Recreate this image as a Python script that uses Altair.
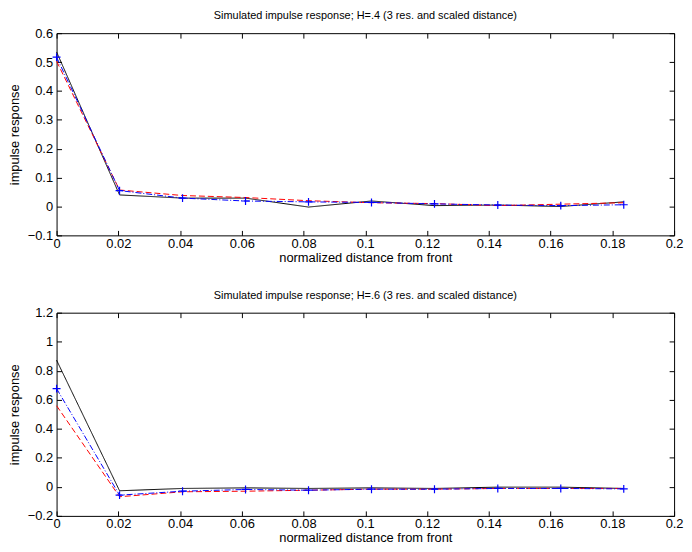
import altair as alt
import pandas as pd

# x positions (normalized distance from front)
x_vals = [0.0, 0.0204, 0.0408, 0.0612, 0.0816, 0.1020, 0.1224, 0.1429, 0.1633, 0.1837]

# Panel 1: H=.4
h4_black = [0.535, 0.040, 0.029, 0.029, -0.002, 0.019, 0.003, 0.005, 0.000, 0.016]
h4_red = [0.503, 0.057, 0.038, 0.031, 0.020, 0.013, 0.010, 0.003, 0.008, 0.013]
h4_blue = [0.517, 0.055, 0.029, 0.019, 0.016, 0.014, 0.009, 0.005, 0.003, 0.006]

# Panel 2: H=.6
h6_black = [0.873, -0.027, -0.011, -0.007, -0.011, -0.007, -0.011, -0.002, -0.002, -0.011]
h6_red = [0.559, -0.068, -0.034, -0.030, -0.023, -0.016, -0.016, -0.011, -0.011, -0.011]
h6_blue = [0.677, -0.057, -0.030, -0.018, -0.023, -0.016, -0.016, -0.011, -0.011, -0.014]

x_ticks = [0, 0.02, 0.04, 0.06, 0.08, 0.1, 0.12, 0.14, 0.16, 0.18, 0.2]
y_ticks_1 = [-0.1, 0, 0.1, 0.2, 0.3, 0.4, 0.5, 0.6]
y_ticks_2 = [-0.2, 0, 0.2, 0.4, 0.6, 0.8, 1, 1.2]

titles = [
    "Simulated impulse response; H=.4 (3 res. and scaled distance)",
    "Simulated impulse response; H=.6 (3 res. and scaled distance)",
]

W = 623
FONT = "Liberation Sans"
CROSS = "M-1,0L1,0M0,-1L0,1"


def panel(black, red, blue, y_ticks, title, H):
    rows = []
    for s, vals in (("black", black), ("red", red), ("blue", blue)):
        for xv, yv in zip(x_vals, vals):
            rows.append({"x": xv, "y": yv, "s": s})
    df = pd.DataFrame(rows)
    xs = alt.Scale(domain=[x_ticks[0], x_ticks[-1]], nice=False)
    ys = alt.Scale(domain=[y_ticks[0], y_ticks[-1]], nice=False)

    base = alt.Chart(df)

    lines = base.mark_line(strokeWidth=1).encode(
        x=alt.X("x:Q", scale=xs,
                axis=alt.Axis(orient="bottom", values=x_ticks, ticks=False, format="~g",
                              title="normalized distance from front", labelFlush=False,
                              labelPadding=2, titlePadding=1, grid=False,
                              domainColor="black")),
        y=alt.Y("y:Q", scale=ys,
                axis=alt.Axis(orient="left", values=y_ticks, ticks=False, format="~g",
                              title="impulse response", labelPadding=4, labelFlush=False,
                              titlePadding=6, grid=False, domainColor="black")),
        color=alt.Color("s:N", scale=alt.Scale(domain=["black", "red", "blue"],
                                                range=["#000000", "#ff0000", "#0000ff"]),
                        legend=None),
        strokeDash=alt.StrokeDash("s:N", scale=alt.Scale(domain=["black", "red", "blue"],
                                                          range=[[1, 0], [6, 3], [6, 2, 1, 2]]),
                                  legend=None),
    )

    pts = base.transform_filter(alt.datum.s == "blue").mark_point(
        shape=CROSS, filled=False, size=64, strokeWidth=1.2, color="#0000ff", opacity=1
    ).encode(
        x=alt.X("x:Q", scale=xs,
                axis=alt.Axis(orient="top", values=x_ticks, ticks=False, labels=False,
                              title=None, grid=False, domainColor="black")),
        y=alt.Y("y:Q", scale=ys,
                axis=alt.Axis(orient="right", values=y_ticks, ticks=False, labels=False,
                              title=None, grid=False, domainColor="black")),
    )

    tickA = base.mark_point(opacity=0).encode(
        x=alt.X("x:Q", scale=xs,
                axis=alt.Axis(orient="top", offset=-H, values=x_ticks, ticks=True, tickSize=5,
                              labels=False, domain=False, title=None, grid=False,
                              tickColor="black")),
        y=alt.Y("y:Q", scale=ys,
                axis=alt.Axis(orient="right", offset=-W, values=y_ticks, ticks=True, tickSize=5,
                              labels=False, domain=False, title=None, grid=False,
                              tickColor="black")),
    )

    tickB = base.mark_point(opacity=0).encode(
        x=alt.X("x:Q", scale=xs,
                axis=alt.Axis(orient="bottom", offset=-H, values=x_ticks, ticks=True, tickSize=5,
                              labels=False, domain=False, title=None, grid=False,
                              tickColor="black")),
        y=alt.Y("y:Q", scale=ys,
                axis=alt.Axis(orient="left", offset=-W, values=y_ticks, ticks=True, tickSize=5,
                              labels=False, domain=False, title=None, grid=False,
                              tickColor="black")),
    )

    return alt.layer(lines, pts, tickA, tickB).resolve_axis(
        x="independent", y="independent"
    ).properties(
        width=W, height=H,
        title=alt.TitleParams(title, fontSize=11, font=FONT, fontWeight="normal",
                              color="black", offset=6, anchor="middle"),
    )


top = panel(h4_black, h4_red, h4_blue, y_ticks_1, titles[0], 204)
bot = panel(h6_black, h6_red, h6_blue, y_ticks_2, titles[1], 205)

chart = alt.vconcat(top, bot, spacing=26).properties(
    padding={"left": 0, "top": 0, "right": 0, "bottom": 0}
).configure_view(stroke=None).configure_axis(
    labelFont=FONT, titleFont=FONT, labelFontSize=13, titleFontSize=13,
    labelColor="black", titleColor="black", titleFontWeight="normal",
    domainWidth=1,
)

chart.save("out.html", embed_options={"renderer": "svg", "actions": False})
